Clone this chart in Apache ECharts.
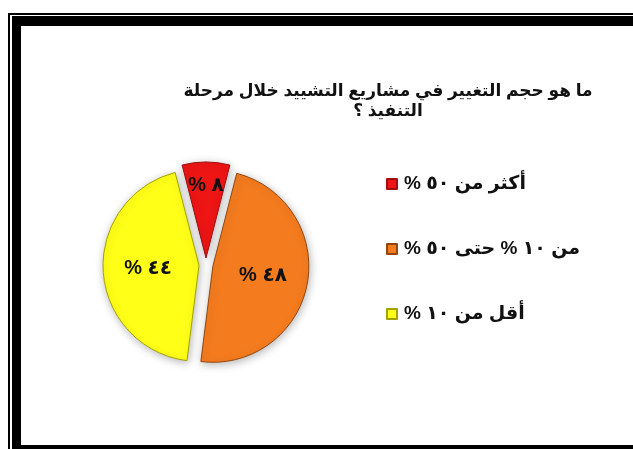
<!DOCTYPE html>
<html>
<head>
<meta charset="utf-8">
<script src="https://cdn.jsdelivr.net/npm/echarts@6/dist/echarts.min.js"></script>
<style>
  html, body { margin: 0; padding: 0; background: #ffffff; }
  #chart { width: 633px; height: 449px; }
</style>
</head>
<body>
<div id="chart" dir="rtl"></div>
<script>
// Share of construction projects by size of change during execution
const categories = ['أكثر من ٥٠ %', 'من ١٠ % حتى ٥٠ %', 'أقل من ١٠ %'];
const values = [8, 48, 44];
const colors = ['#EE1515', '#F47B1E', '#FFFF17'];
const borderColors = ['#9E1010', '#93470F', '#A3A300'];
const titleLines = ['ما هو حجم التغيير في مشاريع التشييد خلال مرحلة', 'التنفيذ ؟'];

const arabicDigits = '٠١٢٣٤٥٦٧٨٩';
const toArabic = n => String(n).replace(/[0-9]/g, d => arabicDigits[+d]);

const FONT = 'Arial, "Liberation Sans", "DejaVu Sans", sans-serif';

const chart = echarts.init(document.getElementById('chart'), null, { renderer: 'canvas' });

// double black frame (thin outer line, thick inner band)
const frame = [
  { x: 8, y: 13, width: 625, height: 2 },
  { x: 8, y: 13, width: 2, height: 436 },
  { x: 12, y: 16, width: 621, height: 10 },
  { x: 12, y: 16, width: 9, height: 433 },
  { x: 12, y: 445, width: 621, height: 4 }
];

chart.setOption({
  backgroundColor: '#ffffff',
  animation: false,
  textStyle: { fontFamily: FONT },
  title: {
    text: titleLines.join('\n'),
    left: 383,
    top: 76,
    textAlign: 'center',
    textStyle: {
      fontFamily: FONT,
      fontSize: 17,
      fontWeight: 'bold',
      color: '#111111',
      lineHeight: 20
    }
  },
  legend: {
    orient: 'vertical',
    left: 381,
    top: 168,
    itemWidth: 10,
    itemHeight: 10,
    itemGap: 43,
    icon: 'rect',
    selectedMode: false,
    data: categories,
    textStyle: {
      fontFamily: FONT,
      fontSize: 19,
      fontWeight: 'bold',
      color: '#111111',
      lineHeight: 22,
      padding: [0, 0, 0, 2]
    }
  },
  graphic: frame.map(r => ({
    type: 'rect',
    shape: r,
    style: { fill: '#000000' },
    silent: true
  })),
  series: [{
    type: 'pie',
    center: [206, 265],
    radius: [0, 96],
    startAngle: 90 + values[0] * 3.6 / 2,
    clockwise: true,
    selectedMode: 'multiple',
    selectedOffset: 7,
    avoidLabelOverlap: false,
    emphasis: { disabled: true },
    label: {
      show: true,
      position: 'inner',
      formatter: p => toArabic(p.value) + ' %',
      fontFamily: FONT,
      fontSize: 20,
      fontWeight: 'bold',
      color: '#111111'
    },
    labelLine: { show: false },
    // the narrow top slice carries its label nearer the rim
    labelLayout: p => (p.dataIndex === 0 ? { dy: -22 } : {}),
    data: categories.map((name, i) => ({
      name,
      value: values[i],
      selected: true,
      itemStyle: {
        color: colors[i],
        borderColor: borderColors[i],
        borderWidth: 1,
        shadowBlur: 8,
        shadowColor: 'rgba(0,0,0,0.28)',
        shadowOffsetX: 1,
        shadowOffsetY: 2
      }
    }))
  }]
});
</script>
</body>
</html>
